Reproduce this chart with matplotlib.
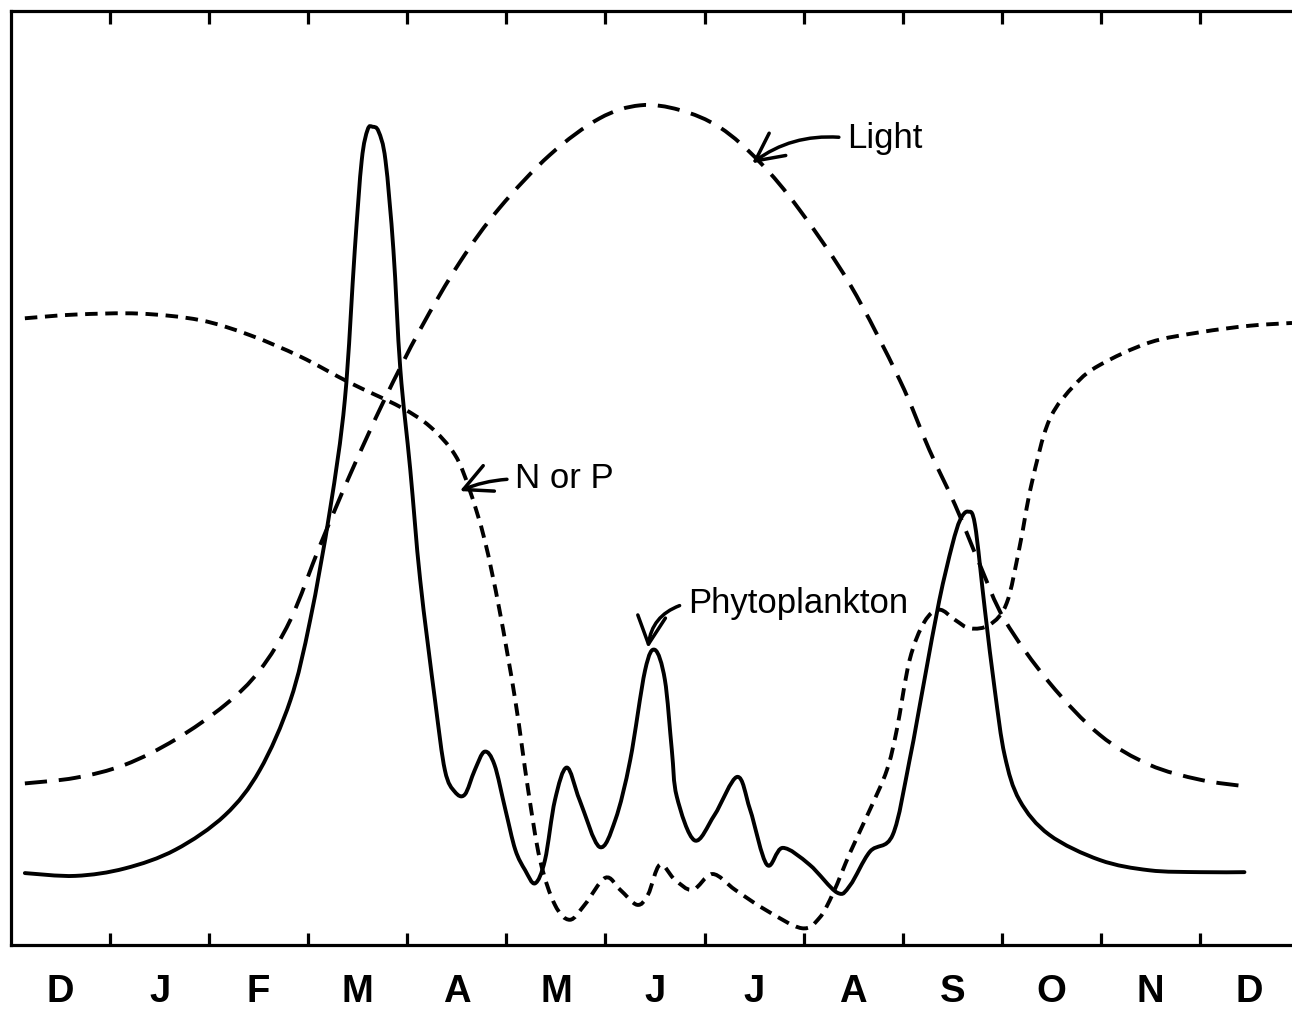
import numpy as np
import matplotlib
matplotlib.use("Agg")
import matplotlib.pyplot as plt
import matplotlib.transforms as mtransforms
from matplotlib.path import Path
from matplotlib.patches import PathPatch

plt.rcParams['font.family'] = ['Liberation Sans', 'DejaVu Sans']
plt.rcParams['lines.scale_dashes'] = False

# Month labels (December through December) and month boundaries
months = ["D", "J", "F", "M", "A", "M", "J", "J", "A", "S", "O", "N", "D"]
month_bounds = list(range(1, 13))

# Seasonal curves: x in months from start of December, y in relative units (0-100)
phyto_x = [0.14, 0.65, 1.15, 1.66, 2.16, 2.51, 2.82, 3.02, 3.22, 3.37, 3.47, 3.54,
           3.60, 3.65, 3.71, 3.78, 3.86, 3.93, 4.03, 4.13, 4.28, 4.38, 4.48, 4.58,
           4.68, 4.78, 4.88, 4.99, 5.09, 5.19, 5.29, 5.39, 5.49, 5.61, 5.74, 5.94,
           6.10, 6.25, 6.40, 6.50, 6.60, 6.67, 6.72, 6.90, 7.10, 7.33, 7.46, 7.63,
           7.79, 8.06, 8.34, 8.47, 8.67, 8.90, 9.07, 9.22, 9.37, 9.50, 9.58, 9.66,
           9.73, 9.83, 9.93, 10.03, 10.18, 10.48, 10.99, 11.49, 12.00, 12.45]
phyto_y = [7.7, 7.4, 8.2, 10.2, 13.9, 18.7, 26.2, 34.8, 46.6, 58.4, 74.4, 84.0,
           87.3, 87.6, 87.1, 84.0, 74.4, 61.6, 50.9, 39.1, 26.2, 18.7, 16.4, 16.1,
           18.7, 20.7, 19.3, 14.5, 10.2, 8.0, 6.6, 9.1, 15.5, 19.0, 15.5, 10.5,
           13.4, 19.8, 29.4, 31.6, 28.4, 20.9, 15.9, 11.2, 13.9, 18.0, 14.5, 8.6,
           10.4, 8.6, 5.6, 6.4, 10.0, 11.8, 19.8, 28.4, 36.9, 42.8, 45.5, 46.4,
           45.0, 35.9, 27.3, 20.3, 15.5, 11.8, 9.1, 8.0, 7.8, 7.8]

light_x = [0.14, 0.65, 1.15, 1.66, 2.16, 2.51, 2.82, 3.12, 3.42, 3.77, 4.13, 4.53,
           4.93, 5.44, 5.94, 6.35, 6.75, 7.16, 7.56, 7.96, 8.47, 8.97, 9.27, 9.53,
           9.78, 10.03, 10.48, 10.99, 11.49, 12.00, 12.45]
light_y = [17.3, 17.9, 19.3, 22.0, 25.7, 29.4, 34.8, 42.8, 50.3, 58.4, 65.9, 73.1,
           78.9, 84.6, 88.5, 89.9, 89.4, 87.5, 83.8, 78.7, 70.7, 60.5, 53.0, 47.1,
           40.7, 34.8, 28.1, 22.5, 19.3, 17.7, 17.0]

nutr_x = [0.14, 0.65, 1.30, 1.91, 2.41, 2.92, 3.42, 3.93, 4.23, 4.48, 4.63, 4.78,
          4.93, 5.09, 5.22, 5.34, 5.49, 5.64, 5.79, 6.00, 6.15, 6.32, 6.43, 6.55,
          6.70, 6.88, 7.08, 7.31, 7.61, 7.98, 8.16, 8.30, 8.47, 8.67, 8.84, 8.94,
          9.07, 9.22, 9.37, 9.53, 9.68, 9.88, 10.05, 10.18, 10.30, 10.48, 10.74,
          10.99, 11.49, 12.00, 12.50, 12.93]
nutr_y = [67.1, 67.5, 67.6, 66.9, 65.3, 63.0, 60.2, 57.6, 55.5, 52.5, 48.7, 43.4,
          35.9, 26.2, 16.6, 9.1, 4.3, 2.7, 4.3, 7.2, 5.9, 4.3, 5.4, 8.6,
          7.0, 5.9, 7.6, 5.9, 3.8, 1.8, 2.9, 5.6, 9.9, 14.5, 18.7, 23.0,
          30.5, 34.6, 35.9, 34.8, 33.9, 34.3, 36.6, 42.6, 49.3, 56.2, 60.0,
          62.1, 64.5, 65.6, 66.3, 66.6]


def smooth_path(xs, ys):
    """Catmull-Rom curve through the given points, as cubic Bezier segments."""
    p = np.column_stack([xs, ys]).astype(float)
    ext = np.vstack([p[0], p, p[-1]])
    verts = [p[0]]
    codes = [Path.MOVETO]
    for i in range(len(p) - 1):
        p0, p1, p2, p3 = ext[i], ext[i + 1], ext[i + 2], ext[i + 3]
        c1 = p1 + (p2 - p0) / 6.0
        c2 = p2 - (p3 - p1) / 6.0
        verts += [c1, c2, p2]
        codes += [Path.CURVE4] * 3
    return Path(verts, codes)


fig = plt.figure(figsize=(12.92, 10.11), dpi=100)
ax = fig.add_axes([11 / 1292, 66 / 1011, 1 - 11 / 1292, (945 - 11) / 1011])
ax.set_xlim(0, 12.93)
ax.set_ylim(0, 100)

lw = 2.8
ax.add_patch(PathPatch(smooth_path(phyto_x, phyto_y), fill=False,
                       lw=lw, ec='black', capstyle='round', joinstyle='round'))
ax.add_patch(PathPatch(smooth_path(light_x, light_y), fill=False,
                       lw=lw, ec='black', linestyle=(0, (16, 8.5))))
ax.add_patch(PathPatch(smooth_path(nutr_x, nutr_y), fill=False,
                       lw=lw, ec='black', linestyle=(0, (9, 5.5))))

# Frame: left, top, bottom only
for side in ('left', 'top', 'bottom'):
    ax.spines[side].set_linewidth(2.3)
ax.spines['right'].set_visible(False)

ax.set_xticks(month_bounds)
ax.set_xticklabels([])
ax.tick_params(axis='x', which='major', direction='in', length=9, width=2.3,
               top=True, bottom=True)
ax.set_yticks([])

# Month letters centred in each month, below the frame
below = mtransforms.blended_transform_factory(ax.transData, ax.transAxes)
for i, m in enumerate(months):
    ax.text(i + 0.5, -0.061, m, transform=below, ha='center', va='baseline',
            fontsize=27.5, fontweight='bold', clip_on=False)

arrow = dict(arrowstyle='->,head_length=0.8,head_width=0.4', lw=2.5,
             color='black', shrinkA=4, shrinkB=0)
ax.annotate("Light", xy=(7.48, 83.7), xytext=(8.44, 86.4),
            fontsize=25, ha='left', va='center',
            arrowprops=dict(arrow, connectionstyle='arc3,rad=0.2',
                            relpos=(0, 0.5)))
ax.annotate("N or P", xy=(4.53, 48.6), xytext=(5.09, 49.9),
            fontsize=25, ha='left', va='center',
            arrowprops=dict(arrow, connectionstyle='arc3,rad=0.1',
                            relpos=(0, 0.5)))
ax.annotate("Phytoplankton", xy=(6.43, 31.8), xytext=(6.83, 36.6),
            fontsize=25, ha='left', va='center',
            arrowprops=dict(arrow, connectionstyle='arc3,rad=0.35',
                            relpos=(0, 0.5)))

fig.savefig("out.png", dpi=100)
